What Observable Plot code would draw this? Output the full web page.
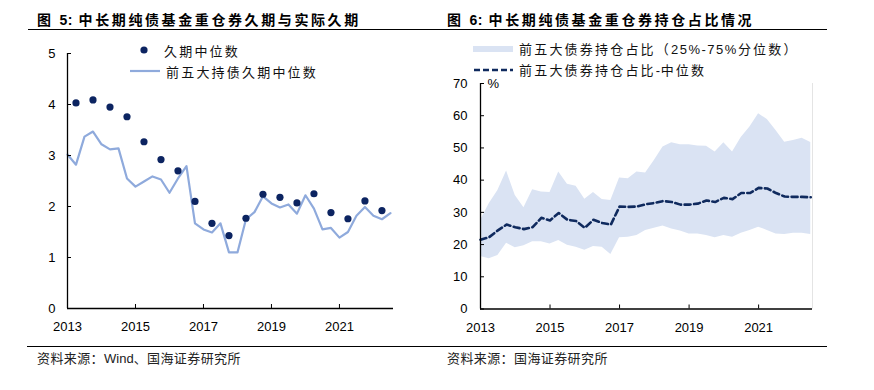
<!DOCTYPE html>
<html><head><meta charset="utf-8">
<script src="https://cdn.jsdelivr.net/npm/d3@7"></script>
<script src="https://cdn.jsdelivr.net/npm/@observablehq/plot@0.6"></script>
<style>
html,body{margin:0;padding:0;background:#fff;}
body{width:874px;height:390px;position:relative;overflow:hidden;font-family:"Noto Sans CJK SC","Noto Sans",sans-serif;}
.abs{position:absolute;white-space:nowrap;line-height:1;}
.title{font-size:14px;font-weight:700;letter-spacing:2.6px;color:#000;}
.hr{position:absolute;height:0;border-top:1.3px solid #000;}
.leg{font-size:13px;letter-spacing:2.2px;color:#111;display:flex;align-items:center;}
.leg .txt{margin-left:6px;}
.src{font-size:13px;letter-spacing:0.4px;color:#222;}
.num{font-family:"Liberation Sans",Arial,sans-serif;letter-spacing:0.5px;}
#c1,#c2{position:absolute;top:0;}
#c1{left:0;} #c2{left:437px;}
</style></head><body>
<div class="abs title" style="left:37px;top:12px;">图 <span class="num">5:</span> 中长期纯债基金重仓券久期与实际久期</div>
<div class="abs title" style="left:447px;top:12px;">图 <span class="num">6:</span> 中长期纯债基金重仓券持仓占比情况</div>
<div class="hr" style="left:28px;width:799px;top:29px;"></div>
<div class="hr" style="left:27px;width:800px;top:346px;"></div>
<div id="c1"></div>
<div id="c2"></div>
<div class="abs leg" style="left:136px;top:43px;"><svg width="16" height="14"><circle cx="8" cy="7" r="3.6" fill="#0c2461"/></svg><span class="txt" style="margin-left:12px">久期中位数</span></div>
<div class="abs leg" style="left:130px;top:64px;"><svg width="30" height="14"><line x1="0" y1="7" x2="30" y2="7" stroke="#8faadc" stroke-width="2.2"/></svg><span class="txt">前五大持债久期中位数</span></div>
<div class="abs leg" style="left:473px;top:42px;"><svg width="40" height="14"><rect x="0" y="4" width="40" height="6" fill="#dae3f3"/></svg><span class="txt">前五大债券持仓占比（<span class="num" style="letter-spacing:1.5px">25%-75%</span>分位数）</span></div>
<div class="abs leg" style="left:473px;top:63px;"><svg width="40" height="14"><line x1="1" y1="7" x2="40" y2="7" stroke="#0f2a5e" stroke-width="2.6" stroke-dasharray="6,3"/></svg><span class="txt">前五大债券持仓占比<span class="num">-</span>中位数</span></div>
<div class="abs src" style="left:37px;top:351px;">资料来源：<span class="num" style="letter-spacing:0">Wind</span>、国海证券研究所</div>
<div class="abs src" style="left:447px;top:351px;">资料来源：国海证券研究所</div>
<script>
// ---- data ----
const periods = ["2012-12","2013-03","2013-06","2013-09","2013-12","2014-03","2014-06","2014-09","2014-12",
  "2015-03","2015-06","2015-09","2015-12","2016-03","2016-06","2016-09","2016-12","2017-03","2017-06","2017-09",
  "2017-12","2018-03","2018-06","2018-09","2018-12","2019-03","2019-06","2019-09","2019-12","2020-03","2020-06",
  "2020-09","2020-12","2021-03","2021-06","2021-09","2021-12","2022-03","2022-06"];
// 前五大持债久期中位数 (quarterly)
const top5Duration = [3.02,2.82,3.37,3.47,3.22,3.12,3.14,2.55,2.39,2.49,2.59,2.53,2.27,2.55,2.79,1.67,1.55,1.49,1.67,1.10,
  1.10,1.75,1.89,2.20,2.06,1.98,2.04,1.86,2.22,1.96,1.55,1.58,1.39,1.50,1.82,1.99,1.82,1.75,1.87];
// 久期中位数 (semi-annual)
const dotPeriods = ["2013-03","2013-09","2014-03","2014-09","2015-03","2015-09","2016-03","2016-09","2017-03","2017-09",
  "2018-03","2018-09","2019-03","2019-09","2020-03","2020-09","2021-03","2021-09","2022-03"];
const medianDuration = [4.03,4.09,3.95,3.76,3.27,2.92,2.70,2.10,1.67,1.43,1.77,2.24,2.18,2.07,2.25,1.88,1.76,2.11,1.92];
// 前五大债券持仓占比 (%)
const share25 = [16.3,15.6,16.6,20.4,19.0,19.6,20.9,20.9,20.2,21.3,19.8,19.2,18.2,19.4,19.2,16.9,22.1,22.3,22.8,24.4,
  25.1,25.8,24.8,24.2,23.3,23.3,22.8,22.1,22.8,22.3,23.5,24.4,25.4,24.4,23.3,23.1,23.5,23.5,23.1];
const share75 = [27.5,32.7,36.8,42.8,35.2,31.4,37.0,36.3,36.2,42.5,38.7,38.1,34.1,36.2,34.0,33.7,40.7,40.4,42.5,42.2,
  46.1,50.3,51.6,51.0,51.0,50.6,50.5,48.7,51.6,48.7,53.2,56.5,60.6,58.8,55.4,51.8,52.3,53.0,51.7];
const shareMedian = [21.5,22.3,24.4,26.2,25.4,24.8,25.4,28.3,27.5,29.8,27.7,27.3,25.2,27.7,26.7,26.2,31.8,31.7,31.8,32.5,
  32.9,33.5,33.2,32.4,32.4,32.7,33.7,33.2,34.5,34.1,36.0,36.0,37.6,37.4,36.0,34.9,34.8,34.8,34.7];
const xTicks = [2013,2015,2017,2019,2021];
const yTicks1 = [0,1,2,3,4,5];
const yTicks2 = [0,10,20,30,40,50,60,70];

const toYear = s => +s.slice(0,4) + (+s.slice(5,7))/12;
const lineData = periods.map((p,i)=>({t:toYear(p), v:top5Duration[i]}));
const dotData = dotPeriods.map((p,i)=>({t:toYear(p), v:medianDuration[i]}));
const bandData = periods.map((p,i)=>({t:toYear(p), lo:share25[i], hi:share75[i], m:shareMedian[i]}));

const axisStyle = {fontFamily:"'Liberation Sans', Arial, sans-serif", fontSize:"13px", color:"#000", background:"transparent", overflow:"visible"};

// ---- chart 1 ----
const W = 437, H = 340;
const c1 = Plot.plot({
  width: W, height: H, marginLeft: 67, marginRight: 44, marginTop: 53, marginBottom: 32,
  style: axisStyle,
  x: {domain: [2013, 2022.59]},
  y: {domain: [0, 5]},
  marks: [
    Plot.line(lineData, {x:"t", y:"v", stroke:"#8faadc", strokeWidth:2.2}),
    Plot.dot(dotData, {x:"t", y:"v", r:3.6, fill:"#0c2461", stroke:"none"}),
    Plot.ruleX(xTicks, {stroke:"#000", strokeWidth:1, insetTop: 255-4}),
    Plot.ruleY(yTicks1, {stroke:"#000", strokeWidth:1, insetRight: 326-4}),
    Plot.ruleY([0], {stroke:"#000", strokeWidth:1.3}),
    Plot.ruleX([2013], {stroke:"#000", strokeWidth:1.3}),
    Plot.axisX({ticks: xTicks, tickSize:0, tickPadding:13, tickFormat: d=>String(d), label:null, fill:"#000"}),
    Plot.axisY({ticks: yTicks1, tickSize:0, tickPadding:12, tickFormat: d=>String(d), label:null, fill:"#000"})
  ]
});
document.getElementById("c1").appendChild(c1);

// ---- chart 2 ----
const c2 = Plot.plot({
  width: W, height: H, marginLeft: 43, marginRight: 62, marginTop: 83, marginBottom: 31.5,
  style: axisStyle,
  x: {domain: [2013, 2022.55]},
  y: {domain: [0, 70]},
  marks: [
    Plot.areaY(bandData, {x:"t", y1:"lo", y2:"hi", fill:"#dae3f3"}),
    Plot.line(bandData, {x:"t", y:"m", stroke:"#0f2a5e", strokeWidth:2.6, strokeDasharray:"6,3.5"}),
    Plot.ruleX([2022.55], {stroke:"#e4e4e4", strokeWidth:1}),
    Plot.ruleX(xTicks, {stroke:"#000", strokeWidth:1, insetTop: 225.5-4}),
    Plot.ruleY(yTicks2, {stroke:"#000", strokeWidth:1, insetRight: 332-4}),
    Plot.ruleY([0], {stroke:"#000", strokeWidth:1.3}),
    Plot.ruleX([2013], {stroke:"#000", strokeWidth:1.3}),
    Plot.text(["%"], {frameAnchor:"top-left", dx:7, textAnchor:"start", lineAnchor:"middle", fontSize:13, fill:"#000"}),
    Plot.axisX({ticks: xTicks, tickSize:0, tickPadding:13.5, tickFormat: d=>String(d), label:null, fill:"#000"}),
    Plot.axisY({ticks: yTicks2, tickSize:0, tickPadding:13, tickFormat: d=>String(d), label:null, fill:"#000"})
  ]
});
document.getElementById("c2").appendChild(c2);
</script>
</body></html>
